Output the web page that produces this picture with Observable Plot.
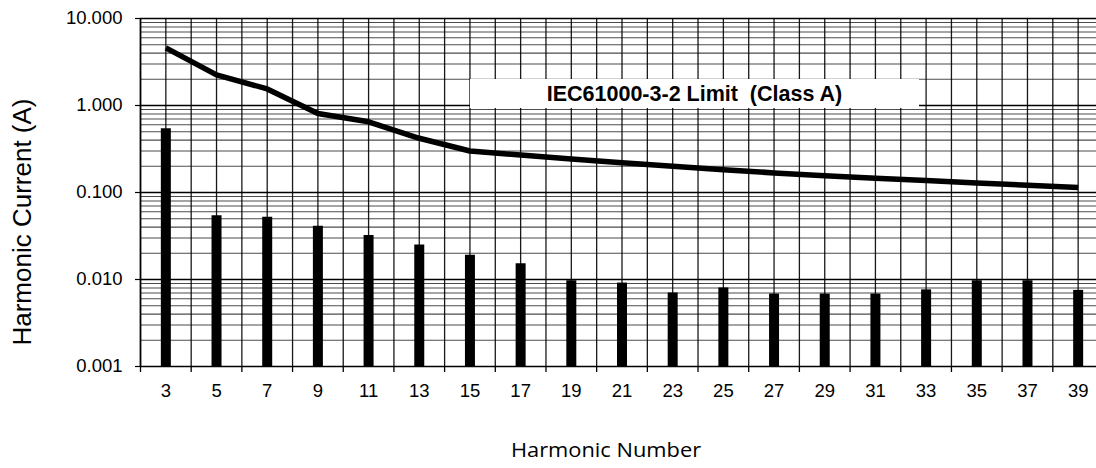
<!DOCTYPE html>
<html>
<head>
<meta charset="utf-8">
<script src="https://cdn.jsdelivr.net/npm/d3@7"></script>
<script src="https://cdn.jsdelivr.net/npm/@observablehq/plot@0.6"></script>
<style>
  html, body { margin: 0; padding: 0; background: #fff; }
  #wrap { position: relative; width: 1096px; height: 468px; overflow: hidden; background: #fff; }
  #chart svg { display: block; }
  #ytitle {
    position: absolute; left: 22px; top: 222px;
    transform: translate(-50%, -50%) rotate(-90deg);
    font-family: "Liberation Sans", Arial, sans-serif; font-size: 26px; color: #000;
    white-space: nowrap; line-height: 1;
  }
  #xtitle {
    position: absolute; left: 606px; top: 440px;
    transform: translateX(-50%) scaleX(1.12);
    font-family: "Open Sans", sans-serif; font-size: 19.5px; line-height: 20px; color: #000;
    white-space: nowrap;
  }
  #legend {
    position: absolute; left: 470px; top: 79px; width: 449px; height: 29px;
    background: #fff; text-align: center; line-height: 30px;
    font-family: "Liberation Sans", Arial, sans-serif; font-weight: bold; font-size: 21.5px;
    white-space: pre; color: #000;
  }
</style>
</head>
<body>
<div id="wrap">
  <div id="chart"></div>
  <div id="ytitle">Harmonic Current (A)</div>
  <div id="xtitle">Harmonic Number</div>
  <div id="legend">IEC61000-3-2 Limit  (Class A)</div>
</div>
<script>
// Harmonic orders (categories)
const harmonics = [3, 5, 7, 9, 11, 13, 15, 17, 19, 21, 23, 25, 27, 29, 31, 33, 35, 37, 39];
// Measured harmonic current (A)
const measured = [0.54, 0.054, 0.052, 0.041, 0.032, 0.025, 0.019, 0.0152, 0.0097, 0.0091,
                  0.0070, 0.0080, 0.0068, 0.0068, 0.0068, 0.0076, 0.0097, 0.0097, 0.0075];
// IEC61000-3-2 Class A limit line (A)
const limitA = [4.6, 2.25, 1.55, 0.81, 0.65, 0.42, 0.30, 0.27, 0.243, 0.22, 0.200, 0.183,
                0.168, 0.156, 0.146, 0.137, 0.129, 0.121, 0.114];
// Axis ticks
const yTicks = [0.001, 0.01, 0.1, 1, 10];
const yTickLabels = ["0.001", "0.010", "0.100", "1.000", "10.000"];
const xTickMarks = [2, 4, 6, 8, 10, 12, 14, 16, 18, 20, 22, 24, 26, 28, 30, 32, 34, 36, 38, 40];

const rows = harmonics.map((h, i) => ({h, measured: measured[i], limit: limitA[i]}));

const W = 1096, H = 420;
const xGrid = d3.range(2, 41);
const yGrid = d3.scaleLog().domain([0.001, 10]).ticks();
const yMinor = yGrid.filter(v => !yTicks.some(t => Math.abs(Math.log10(v) - Math.log10(t)) < 1e-9));

const chart = Plot.plot({
  width: W,
  height: H,
  marginLeft: 140,
  marginRight: 0,
  marginTop: 18,
  marginBottom: H - 366,
  style: {fontFamily: "'Liberation Sans', Arial, sans-serif", fontSize: "18.5px", background: "#fff", color: "#000"},
  x: {type: "linear", domain: [2, 40], range: [140, 1103]},
  y: {type: "log", domain: [0.001, 10], range: [366, 18]},
  marks: [
    Plot.gridY(yMinor, {stroke: "#000", strokeOpacity: 0.7, strokeWidth: 1.1}),
    Plot.gridY(yTicks, {stroke: "#000", strokeOpacity: 1, strokeWidth: 1.3}),
    Plot.gridX(xGrid, {stroke: "#000", strokeOpacity: 0.9, strokeWidth: 1.3}),
    Plot.ruleX([2], {stroke: "#000", strokeWidth: 1.6}),
    Plot.ruleX(rows, {x: "h", y1: 0.001, y2: "measured", stroke: "#000", strokeWidth: 10}),
    Plot.line(rows, {x: "h", y: "limit", stroke: "#000", strokeWidth: 5.5, strokeLinejoin: "round", strokeLinecap: "butt"}),
    Plot.axisY(yTicks, {
      tickSize: 5, tickPadding: 13, label: null,
      tickFormat: (d) => yTickLabels[yTicks.indexOf(d)],
      fontSize: 18.5, stroke: "#000", strokeWidth: 1.2
    }),
    Plot.axisX(harmonics, {tickSize: 0, tickPadding: 17, label: null, fontSize: 18.5, tickFormat: d3.format("d")}),
    Plot.axisX(xTickMarks, {tickSize: 6, label: null, tickFormat: () => "", stroke: "#000", strokeWidth: 1.3})
  ]
});
document.getElementById("chart").appendChild(chart);
</script>
</body>
</html>
